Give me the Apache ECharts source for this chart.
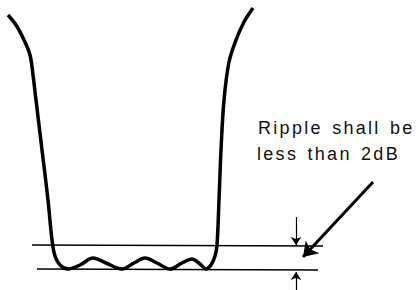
<!DOCTYPE html>
<html>
<head>
<meta charset="utf-8">
<script src="https://cdn.jsdelivr.net/npm/echarts@6/dist/echarts.min.js"></script>
<style>
  html, body { margin: 0; padding: 0; background: #fff; }
  #chart { width: 417px; height: 290px; }
  /* the note in the drawing is set with wide tracking */
  #chart text { letter-spacing: 2.3px; word-spacing: 2px; }
</style>
</head>
<body>
<div id="chart"></div>
<script>
// response curve (x along the band, y downwards = more attenuation)
const curveX = [8, 16, 24, 30, 33, 36, 42, 48, 52, 55, 60, 68, 80, 93, 106, 122, 134, 145, 157, 170, 182, 192, 200, 206, 211, 215, 217, 219, 221, 224, 229, 236, 244, 253];
const curveY = [15, 25, 40, 55, 75, 100, 150, 200, 240, 256, 265, 269, 265, 258, 263, 269, 263, 258, 263, 269, 263, 259, 264, 269, 265, 256, 245, 200, 150, 100, 62, 40, 22, 8];

// ripple limit lines
const upperLimit = [[32, 245], [323, 246]];
const lowerLimit = [[37, 269], [318, 270]];

// dimension arrows and pointer
const dimArrows = [
  [[296, 217], [296, 245]],
  [[296, 290], [296, 272]]
];
const pointer = [[373, 182], [303, 257]];

const noteLines = ["Ripple shall be", "less than 2dB"];

const chart = echarts.init(document.getElementById("chart"), null, { renderer: "svg" });

const options = {
  animation: false,
  backgroundColor: "#fff",
  grid: { left: 0, right: 0, top: 0, bottom: 0 },
  xAxis: { type: "value", min: 0, max: 417, show: false },
  yAxis: { type: "value", min: 0, max: 290, inverse: true, show: false },
  graphic: [
    {
      type: "text",
      left: 258,
      top: 119,
      style: { text: noteLines[0], font: "18px 'Liberation Sans'", fill: "#111" }
    },
    {
      type: "text",
      left: 257,
      top: 145,
      style: { text: noteLines[1], font: "18px 'Liberation Sans'", fill: "#111" }
    }
  ],
  series: [
    {
      type: "line",
      data: curveX.map((x, i) => [x, curveY[i]]),
      smooth: 0.35,
      showSymbol: false,
      lineStyle: { color: "#000", width: 3.5 }
    },
    {
      type: "line",
      data: upperLimit,
      showSymbol: false,
      lineStyle: { color: "#000", width: 1.5 }
    },
    {
      type: "line",
      data: lowerLimit,
      showSymbol: false,
      lineStyle: { color: "#000", width: 1.5 }
    },
    {
      type: "lines",
      coordinateSystem: "cartesian2d",
      symbol: ["none", "arrow"],
      symbolSize: 8,
      lineStyle: { color: "#000", width: 1.2, opacity: 1 },
      data: dimArrows.map((c) => ({ coords: c }))
    },
    {
      type: "lines",
      coordinateSystem: "cartesian2d",
      symbol: ["none", "arrow"],
      symbolSize: 14,
      lineStyle: { color: "#000", width: 3, opacity: 1 },
      data: [{ coords: pointer }]
    }
  ]
};

chart.setOption(options);
</script>
</body>
</html>
